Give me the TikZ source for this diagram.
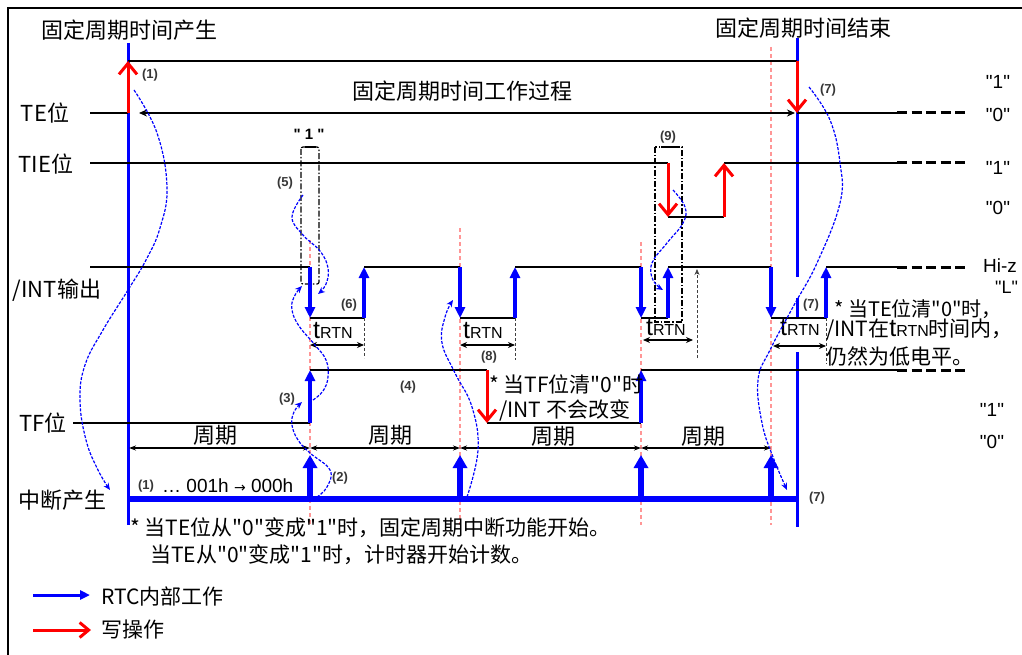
\documentclass[tikz,border=0pt]{standalone}
\usepackage{fontspec}
\newfontfamily\lib{Liberation Sans}
\newfontfamily\cjk{Noto Sans CJK SC}
\newfontfamily\djv{DejaVu Sans}
\usetikzlibrary{arrows.meta}
\definecolor{pblue}{RGB}{0,0,255}
\definecolor{pred}{RGB}{255,0,0}
\definecolor{ppink}{RGB}{255,150,150}
\definecolor{numgray}{RGB}{55,55,55}
\newcommand{\trtn}{{\lib\fontsize{25}{25}\selectfont t}{\lib\fontsize{16}{16}\selectfont RTN}}
\begin{document}
\begin{tikzpicture}[x=1pt,y=-1pt,
 sig/.style={line width=1.2pt},
 ext/.style={line width=3pt,dash pattern=on 10pt off 4.5pt},
 bluearr/.style={line width=3.5pt,pblue,-{Triangle[length=11pt,width=10pt]}},
 intarr/.style={line width=5.5pt,pblue,-{Triangle[length=13pt,width=14pt]}},
 redarr/.style={line width=3pt,pred,-{Straight Barb[length=11pt,width=18pt]}},
 pinkl/.style={line width=1.2pt,ppink,dash pattern=on 4pt off 3pt},
 bcurve/.style={line width=1.2pt,pblue,dash pattern=on 3pt off 1.5pt,-{Stealth[length=7pt,width=6pt]}},
 dashdot/.style={line width=1.2pt,dash pattern=on 6pt off 2pt on 1.5pt off 2pt},
 tdash/.style={line width=0.8pt,black!75,dash pattern=on 3pt off 2pt},
 period/.style={line width=1.3pt,{Stealth[length=7pt,width=5pt]}-{Stealth[length=7pt,width=5pt]}},
 tarrow/.style={line width=1.8pt,{Stealth[length=7pt,width=6pt]}-{Stealth[length=7pt,width=6pt]}},
 num/.style={font=\lib\bfseries\fontsize{13}{14}\selectfont,text=numgray,inner sep=0pt},
 lab/.style={font=\cjk\fontsize{22}{24}\selectfont,inner sep=0pt},
 note/.style={font=\cjk\fontsize{21}{23}\selectfont,inner sep=0pt,anchor=west},
 qlab/.style={font=\lib\fontsize{19}{20}\selectfont,inner sep=0pt},
 trl/.style={inner sep=0pt,anchor=base west}]
\useasboundingbox (0,0) rectangle (1022,655);
\fill[white] (0,0) rectangle (1022,655);
\draw[line width=1.6pt] (8,660) -- (8,8) -- (1030,8);

% pink dashed reference lines
\foreach \x/\y in {310/240,460/228,641/242,771/47} \draw[pinkl] (\x,\y) -- (\x,525);

% main blue verticals
\draw[line width=3pt,pblue] (128,43) -- (128,525);
\draw[line width=3pt,pblue] (797,38) -- (797,277) (797,298) -- (797,317) (797,352) -- (797,527);

% TE bit
\draw[sig] (90,113) -- (128,113);
\draw[sig] (128,61) -- (797,61);
\draw[line width=2.4pt,{Stealth[length=8pt,width=7pt]}-{Stealth[length=8pt,width=7pt]}] (139,113) -- (795,113);
\draw[sig] (797,113) -- (897,113);
\draw[ext] (897,113) -- (968,113);
\draw[redarr] (128,113) -- (128,61);
\draw[redarr] (797,61) -- (797,113);

% TIE bit
\draw[sig] (90,163) -- (668,163) (668,217) -- (724,217) (724,163) -- (897,163);
\draw[ext] (897,163) -- (968,163);
\draw[redarr] (668,163) -- (668,217);
\draw[redarr] (724,217) -- (724,163);

% dash-dot boxes
\draw[dashdot,rounded corners=2pt] (301,147) rectangle (319,284);
\draw[line width=2pt] (305,147) -- (316,147);
\draw[dashdot] (655,147) rectangle (682,322);
\draw[line width=2.2pt] (661,147) -- (679,147);

% /INT output
\draw[sig] (90,267) -- (310,267) (310,318) -- (364,318) (364,267) -- (460,267)
  (460,318) -- (515,318) (515,267) -- (641,267) (641,318) -- (668,318)
  (668,267) -- (771,267) (771,318) -- (826,318) (826,267) -- (897,267);
\draw[ext] (897,267) -- (968,267);
\foreach \x in {310,460,641,771} \draw[bluearr] (\x,267) -- (\x,318);
\foreach \x in {364,515,668,826} \draw[bluearr] (\x,318) -- (\x,267);

% tRTN marks
\foreach \x/\y in {364/358,515/360,826/364} \draw[tdash] (\x,318) -- (\x,\y);
\draw[tdash,-{Stealth[length=6pt,width=5pt]}] (697,358) -- (697,269);
\draw[tarrow] (310,345) -- (364,345);
\draw[tarrow] (460,345) -- (515,345);
\draw[tarrow] (643,340) -- (693,340);
\draw[tarrow] (773,346) -- (826,346);
\node[trl] (t1) at (313,338) {\trtn};
\node[trl] (t2) at (463,338) {\trtn};
\node[trl] (t3) at (646,335) {\trtn};
\node[trl] (t4) at (780,335) {\trtn};

% TF bit
\draw[sig] (73,423) -- (310,423) (310,370) -- (487,370) (487,423) -- (641,423) (641,370) -- (897,370);
\draw[ext] (897,370) -- (968,370);
\draw[bluearr] (310,423) -- (310,370);
\draw[bluearr] (641,423) -- (641,370);
\draw[redarr] (487,370) -- (487,423);

% periods
\draw[period] (129,448) -- (310,448);
\draw[period] (310,448) -- (460,448);
\draw[period] (460,448) -- (641,448);
\draw[period] (641,448) -- (771,448);
\node[lab] (p1) at (215,435) {周期};
\node[lab] (p2) at (390,435) {周期};
\node[lab] (p3) at (553,436) {周期};
\node[lab] (p4) at (703,436) {周期};

% interrupt line
\draw[line width=6.5pt,pblue] (128,499) -- (798.5,499);
\foreach \x in {310,460,641,771} \draw[intarr] (\x,497) -- (\x,455);

% blue causal curves
\draw[bcurve] plot[smooth,tension=0.7] coordinates {(134,90) (157,133) (167,187) (160,228) (146,260) (128,290) (103,330) (85,365) (80,400) (86,440) (98,470) (110,490)};
\draw[bcurve] plot[smooth,tension=0.7] coordinates {(809,87) (830,120) (840,163) (840,203) (817,263) (793,307) (770,350) (758,380) (762,423) (773,457) (787,490)};
\draw[bcurve] plot[smooth,tension=0.7] coordinates {(303,195) (292,217) (303,235) (320,251) (328,268) (326,284) (318,294)};
\draw[bcurve] plot[smooth,tension=0.7] coordinates {(317,497) (327,487) (330,470) (310,453) (298,440) (292,425) (294,412) (302,402)};
\draw[bcurve] plot[smooth,tension=0.7] coordinates {(313,400) (323,391) (328,377) (326,360) (315,345) (299,326) (292,310) (294,297) (302,286)};
\draw[bcurve] plot[smooth,tension=0.7] coordinates {(467,497) (478,450) (472,407) (455,373) (442,343) (445,317) (453,300)};
\draw[bcurve] plot[smooth,tension=0.7] coordinates {(673,190) (685,207) (683,223) (667,243) (652,263) (653,280) (663,290)};

% titles and row labels
\node[lab] (tstart) at (129,30) {固定周期时间产生};
\node[lab] (tend) at (803,28) {固定周期时间结束};
\node[lab] (twork) at (462,91) {固定周期时间工作过程};
\node[lab] (lte) at (45,113) {TE位};
\node[lab] (ltie) at (46,164) {TIE位};
\node[lab] (lint) at (57,290) {/INT输出};
\node[lab] (ltf) at (43,423) {TF位};
\node[lab] (lirq) at (62,500) {中断产生};

% level labels
\node[qlab] (q1) at (998,82) {"1"};
\node[qlab] (q2) at (998,115) {"0"};
\node[qlab] (q3) at (998,168) {"1"};
\node[qlab] (q4) at (998,208) {"0"};
\node[qlab] (q5) at (1000,266) {Hi-z};
\node[qlab,anchor=west,font=\lib\fontsize{18}{19}\selectfont] (q6) at (995,287) {"L"};
\node[qlab] (q7) at (992,410) {"1"};
\node[qlab] (q8) at (992,442) {"0"};

% numbered marks
\node[num] (n1) at (150,75) {(1)};
\node[num] (n7a) at (828,90) {(7)};
\node[num] (n5) at (285,183) {(5)};
\node[num] (n6) at (349,305) {(6)};
\node[num] (n9) at (668,137) {(9)};
\node[num] (n8) at (489,357) {(8)};
\node[num] (n7b) at (811,305) {(7)};
\node[num] (n3) at (287,399) {(3)};
\node[num] (n4) at (408,387) {(4)};
\node[num] (n2) at (340,478) {(2)};
\node[num] (n1b) at (146,486) {(1)};
\node[num] (n7c) at (817,498) {(7)};
\node[font=\lib\bfseries\fontsize{15}{15}\selectfont,inner sep=0pt] (one) at (309,134) {" 1 "};
\node[font=\lib\fontsize{19}{20}\selectfont,inner sep=0pt,anchor=west] (cnt) at (162,486) {\dots\ 001h {\djv\fontsize{14}{14}\selectfont →} 000h};

% notes
\node[note] (nt1) at (489,384) {* 当TF位清"0"时};
\node[note] (nt2) at (499,410) {/INT 不会改变};
\node[note,font=\cjk\fontsize{20}{22}\selectfont] (nr1) at (834,309) {* 当TE位清"0"时，};
\node[note] (nr2) at (826,330) {/INT在\trtn 时间内，};
\node[note] (nr3) at (826,356) {仍然为低电平。};
\node[note] (nb1) at (130,528) {* 当TE位从"0"变成"1"时，固定周期中断功能开始。};
\node[note] (nb2) at (150,555) {当TE从"0"变成"1"时，计时器开始计数。};

% legend
\coordinate (lb1) at (33,595);
\coordinate (lb2) at (90,595);
\coordinate (lr1) at (33,630);
\coordinate (lr2) at (91,630);
\draw[line width=3pt,pblue,-{Triangle[length=10pt,width=9pt]}] (lb1) -- (lb2);
\draw[line width=3pt,pred,-{Straight Barb[length=9pt,width=15pt]}] (lr1) -- (lr2);
\node[note] (lg1) at (101,596) {RTC内部工作};
\node[note] (lg2) at (101,630) {写操作};
\end{tikzpicture}
\end{document}
